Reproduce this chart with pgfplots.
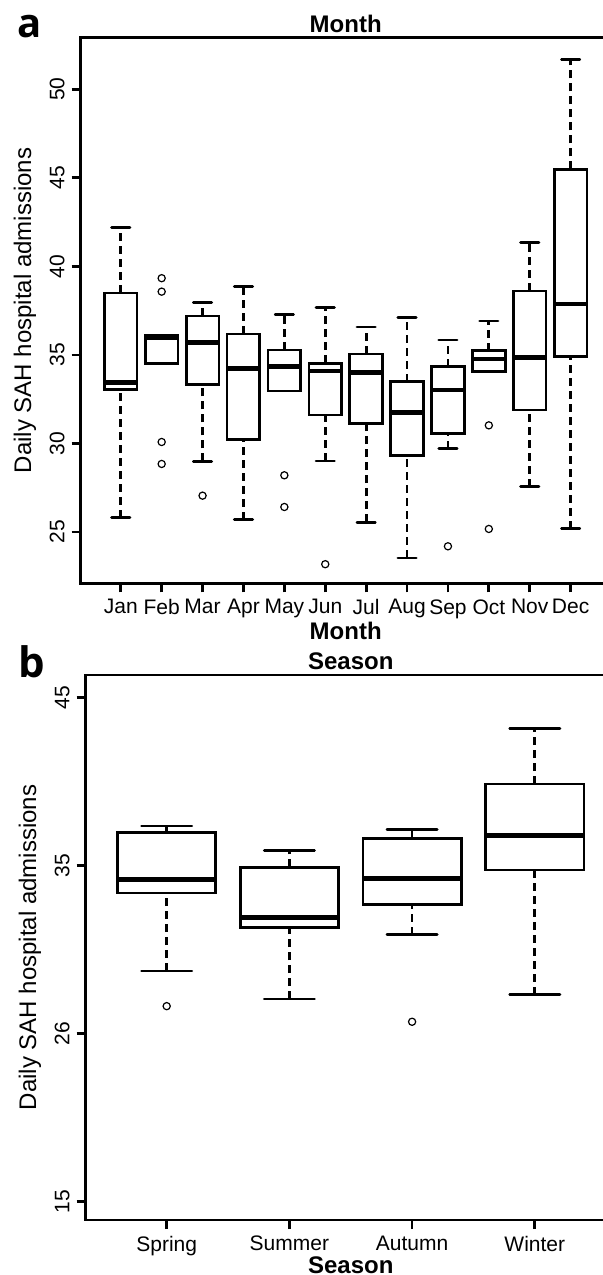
\documentclass[border=0pt]{standalone}
\usepackage{fontspec}
\setmainfont{Liberation Sans}
\newfontfamily\panelfont{Open Sans}
\usepackage{pgfplots}
\pgfplotsset{compat=1.18}

% one R-style box: position, lower whisker, Q1, median, Q3, upper whisker
\newcommand\rbox[6]{%
  \pgfmathsetmacro\xl{#1-0.4}\pgfmathsetmacro\xr{#1+0.4}%
  \pgfmathsetmacro\cl{#1-\capw}\pgfmathsetmacro\cr{#1+\capw}%
  \addplot[whisk] coordinates {(#1,#2) (#1,#3)};
  \addplot[whisk] coordinates {(#1,#5) (#1,#6)};
  \addplot[staple] coordinates {(\cl,#2) (\cr,#2)};
  \addplot[staple] coordinates {(\cl,#6) (\cr,#6)};
  \addplot[boxln] coordinates {(\xl,#3) (\xr,#3) (\xr,#5) (\xl,#5) (\xl,#3) (\xr,#3)};
  \addplot[medln] coordinates {(\xl,#4) (\xr,#4)};
}

\pgfplotsset{
  whisk/.style={black, line width=1.35pt, dash pattern=on 4pt off 2.5pt, mark=none},
  staple/.style={black, line width=1.35pt, solid, line cap=round, mark=none},
  boxln/.style={black, line width=1.35pt, solid, line join=miter, mark=none},
  medln/.style={black, line width=2.4pt, solid, mark=none},
  rout/.style={only marks, mark=o, mark size=1.8pt,
    mark options={line width=0.6pt, black, solid}},
  rax/.style={
    scale only axis,
    width=265pt, height=272.8pt,
    tick align=outside, tick pos=left,
    major tick length=4.5pt,
    axis line style={line width=1.35pt},
    every tick/.style={black, line width=1.35pt},
    tick label style={font=\fontsize{10.5}{12}\selectfont},
    yticklabel style={rotate=90, anchor=south},
    /pgf/number format/assume math mode=true,
    label style={font=\fontsize{12}{14}\selectfont},
    xlabel style={font=\bfseries\fontsize{12}{14}\selectfont, yshift=5pt},
    every axis title shift=0pt,
    title style={font=\bfseries\fontsize{12}{14}\selectfont, yshift=-1pt},
  },
}

\begin{document}
\begin{tikzpicture}
% panel a: by month
\def\capw{0.225}
\begin{axis}[rax,
  at={(40.35pt,-291.65pt)}, anchor=south west,
  xmin=0.02, xmax=12.98, ymin=22.10, ymax=52.91,
  xtick={1,...,12},
  xticklabels={Jan,Feb,Mar,Apr,May,Jun,Jul,Aug,Sep,Oct,Nov,Dec},
  ytick={25,30,35,40,45,50},
  title={Month}, xlabel={Month},
  ylabel={Daily SAH hospital admissions},
]
\rbox{1}{25.8}{33.05}{33.45}{38.5}{42.2}
\rbox{2}{34.53}{34.53}{35.98}{36.1}{36.1}
\rbox{3}{28.99}{33.34}{35.69}{37.2}{37.97}
\rbox{4}{25.7}{30.23}{34.24}{36.18}{38.85}
\rbox{5}{32.96}{32.96}{34.36}{35.28}{37.29}
\rbox{6}{29.01}{31.61}{34.09}{34.53}{37.69}
\rbox{7}{25.55}{31.14}{34.02}{35.05}{36.58}
\rbox{8}{23.53}{29.31}{31.76}{33.49}{37.12}
\rbox{9}{29.7}{30.57}{33.02}{34.33}{35.84}
\rbox{10}{34.05}{34.05}{34.77}{35.24}{36.91}
\rbox{11}{27.56}{31.89}{34.86}{38.61}{41.36}
\rbox{12}{25.19}{34.9}{37.87}{45.48}{51.69}
% outliers
\addplot[rout] coordinates {
  (2,39.33) (2,38.57) (2,30.08) (2,28.84)
  (3,27.05)
  (5,28.2) (5,26.41)
  (6,23.18)
  (9,24.19)
  (10,31.02) (10,25.17)
};
\end{axis}

% panel b: by season
\def\capw{0.205}
\begin{axis}[rax,
  at={(42.85pt,-610pt)}, anchor=south west,
  width=265.05pt, height=272.5pt,
  xmin=0.34, xmax=4.66, ymin=13.89, ymax=46.33,
  xtick={1,2,3,4},
  xticklabels={Spring,Summer,Autumn,Winter},
  ytick={15,25,35,45},
  yticklabels={15,26,35,45},
  title={Season}, xlabel={Season},
  xlabel style={inner sep=0pt, yshift=-2pt},
  ylabel={Daily SAH hospital admissions},
]
\rbox{1}{28.71}{33.35}{34.14}{36.96}{37.34}
\rbox{2}{27.04}{31.31}{31.88}{34.88}{35.87}
\rbox{3}{30.87}{32.68}{34.23}{36.58}{37.14}
\rbox{4}{27.3}{34.72}{36.8}{39.84}{43.15}
\addplot[rout] coordinates {(1,26.62) (3,25.69)};
\end{axis}

\node[anchor=base west, inner sep=0pt, font=\panelfont\bfseries\fontsize{20}{24}\selectfont] at (8.5pt,-18.65pt) {a};
\node[anchor=base west, inner sep=0pt, font=\panelfont\bfseries\fontsize{21}{24}\selectfont] at (9pt,-338.5pt) {b};

\pgfresetboundingbox
\path[use as bounding box] (0pt,0pt) rectangle (301.5pt,-637.5pt);
\end{tikzpicture}
\end{document}
